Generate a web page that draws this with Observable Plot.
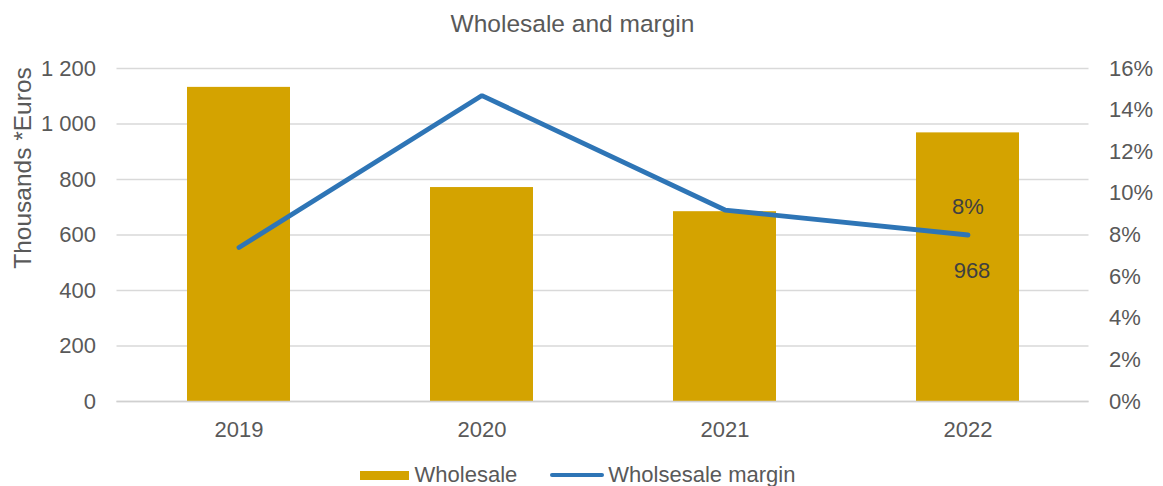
<!DOCTYPE html>
<html>
<head>
<meta charset="utf-8">
<script src="https://cdn.jsdelivr.net/npm/d3@7"></script>
<script src="https://cdn.jsdelivr.net/npm/@observablehq/plot@0.6"></script>
<style>
  body { margin: 0; background: #fff; font-family: "Liberation Sans", Arial, sans-serif; color: #595959; }
  #wrap { width: 1163px; height: 486px; overflow: hidden; }
  #title { height: 48px; line-height: 48px; text-align: center; font-size: 24.5px; color: #595959; padding-right: 18px; box-sizing: border-box; }
  #legend { height: 38px; display: flex; justify-content: center; align-items: center; font-size: 22px; color: #595959; padding-top: 16px; padding-right: 8px; box-sizing: border-box; }
  .item { display: flex; align-items: center; }
  .sw-bar { width: 49px; height: 9px; background: #D4A300; margin-right: 6px; }
  .sw-line { width: 54px; height: 4.5px; border-radius: 2px; background: #2E75B6; margin-right: 4px; }
  svg { display: block; }
</style>
</head>
<body>
<div id="wrap">
  <div id="title">Wholesale and margin</div>
  <div id="chart"></div>
  <div id="legend">
    <div class="item" style="margin-right:33px"><div class="sw-bar"></div><span>Wholesale</span></div>
    <div class="item"><div class="sw-line"></div><span>Wholsesale margin</span></div>
  </div>
</div>
<script>
const years = ["2019", "2020", "2021", "2022"];
const wholesale = [1132, 771, 684, 968];
const margin = [7.4, 14.7, 9.2, 8.0]; // percent
const leftTicks = [0, 200, 400, 600, 800, 1000, 1200];
const rightTicksPct = [0, 2, 4, 6, 8, 10, 12, 14, 16];
const yLabel = "Thousands *Euros";

const pctToY = p => p * 1200 / 16;
const bars = years.map((y, i) => ({year: y, value: wholesale[i]}));
const line = years.map((y, i) => ({year: y, pct: margin[i], v: pctToY(margin[i])}));
const last = line[line.length - 1];
const lastBar = bars[bars.length - 1];

const fmtThousands = d => d3.format(",")(d).replace(/,/g, " ");

const chart = Plot.plot({
  width: 1163,
  height: 400,
  marginLeft: 116.5,
  marginRight: 74.5,
  marginTop: 20,
  marginBottom: 47,
  style: { fontFamily: "'Liberation Sans', Arial, sans-serif", fontSize: "22px", color: "#595959", background: "#fff" },
  x: { domain: years, padding: 0, label: null },
  y: { domain: [0, 1200], label: null },
  marks: [
    Plot.gridY(leftTicks, { stroke: "#d9d9d9", strokeOpacity: 1, strokeWidth: 1.3 }),
    Plot.barY(bars, { x: "year", y: "value", fill: "#D4A300", insetLeft: 70, insetRight: 70 }),
    Plot.lineY(line, { x: "year", y: "v", stroke: "#2E75B6", strokeWidth: 4.8, strokeLinecap: "round", strokeLinejoin: "miter" }),
    Plot.text([last], { x: "year", y: "v", text: d => d3.format(".0f")(d.pct) + "%", dy: -28, fill: "#404040", fontSize: 22 }),
    Plot.text([lastBar], { x: "year", y: () => last.v, text: d => String(d.value), dx: 4, dy: 36, fill: "#404040", fontSize: 22 }),
    Plot.axisY(leftTicks, { anchor: "left", tickSize: 0, tickPadding: 21, tickFormat: fmtThousands, label: null, fill: "#595959" }),
    Plot.axisY(rightTicksPct.map(pctToY), { anchor: "right", tickSize: 0, tickPadding: 20, tickFormat: d => Math.round(d * 16 / 1200) + "%", label: null, fill: "#595959" }),
    Plot.axisX({ tickSize: 0, tickPadding: 20, label: null, fill: "#595959" }),
    Plot.ruleY([0], { stroke: "#d0d0d0", strokeWidth: 1.3 }),
    Plot.text([yLabel], { frameAnchor: "left", textAnchor: "middle", text: d => d, rotate: -90, dx: -94, dy: -67, fill: "#595959", fontSize: 24.5 })
  ]
});
document.getElementById("chart").appendChild(chart);
</script>
</body>
</html>
